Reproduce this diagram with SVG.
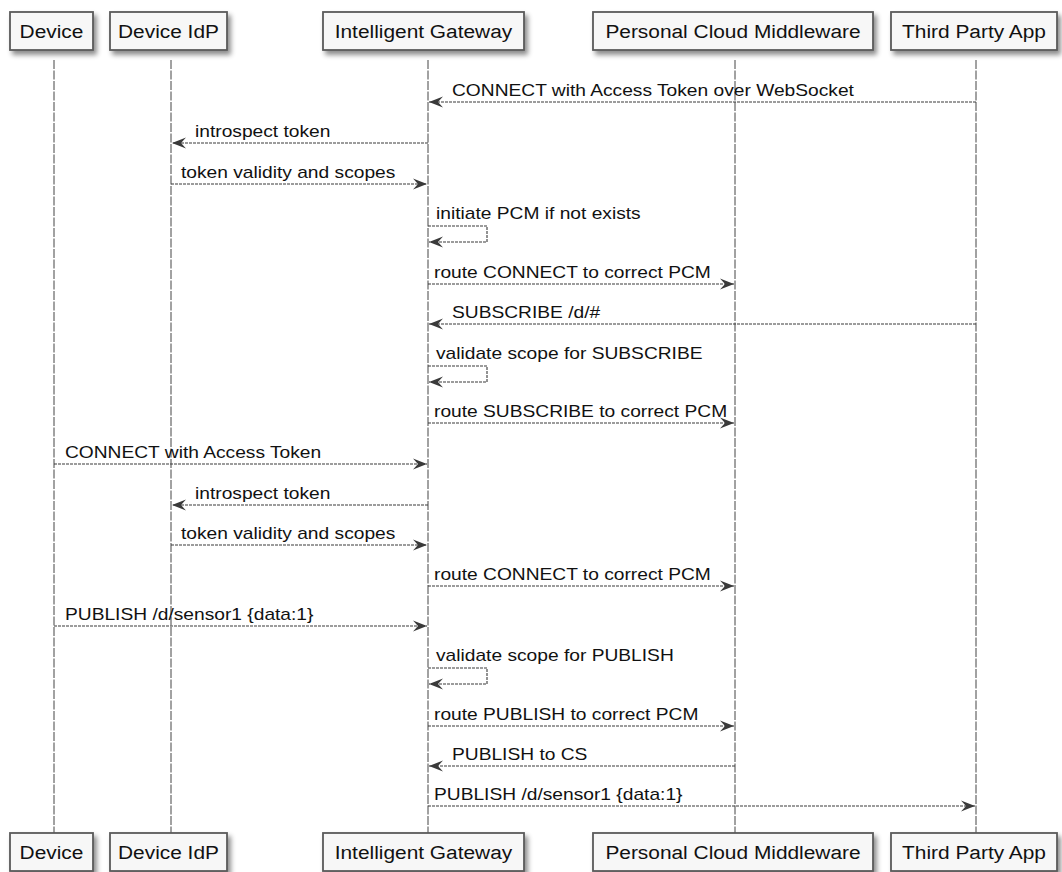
<svg xmlns="http://www.w3.org/2000/svg" width="1062" height="872" viewBox="0 0 1062 872">
<defs>
<filter id="sh" x="-10%" y="-20%" width="130%" height="160%">
<feDropShadow dx="3" dy="4" stdDeviation="2.5" flood-color="#000" flood-opacity="0.45"/>
</filter>
<marker id="ah" viewBox="0 0 14 12" refX="14" refY="6" markerWidth="14" markerHeight="12" markerUnits="userSpaceOnUse" orient="auto">
<path d="M0,0.5 L14,6 L0,11.5 L5,6 Z" fill="#3a3a3a"/>
</marker>
</defs>
<style>
.box{fill:#f7f7f7;stroke:#5a5a5a;stroke-width:1.8;filter:url(#sh)}
.pt{font-family:"Liberation Sans",Arial,sans-serif;font-size:18px;fill:#111;text-anchor:middle;transform-box:fill-box;transform-origin:center;transform:scaleX(1.16)}
.life{stroke:#444;stroke-width:1;stroke-dasharray:9,1.5;fill:none}
.msg{stroke:#3a3a3a;stroke-width:1.1;stroke-dasharray:3,1;fill:none;marker-end:url(#ah)}
.ml{font-family:"Liberation Sans",Arial,sans-serif;font-size:16px;fill:#111;transform-box:fill-box;transform-origin:left center;transform:scaleX(1.2)}
</style>
<rect width="1062" height="872" fill="#fff"/>
<g id="lifelines">
<line class="life" x1="54" y1="60" x2="54" y2="833"/>
<line class="life" x1="171" y1="60" x2="171" y2="833"/>
<line class="life" x1="428" y1="60" x2="428" y2="833"/>
<line class="life" x1="735" y1="60" x2="735" y2="833"/>
<line class="life" x1="976" y1="60" x2="976" y2="833"/>
</g>
<g id="device">
<rect class="box" x="10" y="12" width="83" height="38"/>
<text class="pt" x="51.5" y="38">Device</text>
<rect class="box" x="10" y="833" width="83" height="38"/>
<text class="pt" x="51.5" y="859">Device</text>
</g>
<g id="device-idp">
<rect class="box" x="110" y="12" width="117" height="38"/>
<text class="pt" x="168.5" y="38">Device IdP</text>
<rect class="box" x="110" y="833" width="117" height="38"/>
<text class="pt" x="168.5" y="859">Device IdP</text>
</g>
<g id="intelligent-gateway">
<rect class="box" x="323" y="12" width="201" height="38"/>
<text class="pt" x="423.5" y="38">Intelligent Gateway</text>
<rect class="box" x="323" y="833" width="201" height="38"/>
<text class="pt" x="423.5" y="859">Intelligent Gateway</text>
</g>
<g id="personal-cloud-middleware">
<rect class="box" x="593" y="12" width="280" height="38"/>
<text class="pt" x="733" y="38">Personal Cloud Middleware</text>
<rect class="box" x="593" y="833" width="280" height="38"/>
<text class="pt" x="733" y="859">Personal Cloud Middleware</text>
</g>
<g id="third-party-app">
<rect class="box" x="891" y="12" width="166" height="38"/>
<text class="pt" x="974" y="38">Third Party App</text>
<rect class="box" x="891" y="833" width="166" height="38"/>
<text class="pt" x="974" y="859">Third Party App</text>
</g>
<g id="connectors">
<line class="msg" x1="976" y1="102" x2="429" y2="102"/>
<text class="ml" x="452" y="96">CONNECT with Access Token over WebSocket</text>
<line class="msg" x1="428" y1="143" x2="172" y2="143"/>
<text class="ml" x="195" y="137">introspect token</text>
<line class="msg" x1="171" y1="184" x2="427" y2="184"/>
<text class="ml" x="181" y="178">token validity and scopes</text>
<polyline class="msg" points="428,226 487,226 487,242 429,242"/>
<text class="ml" x="436" y="219">initiate PCM if not exists</text>
<line class="msg" x1="428" y1="284" x2="734" y2="284"/>
<text class="ml" x="434" y="278">route CONNECT to correct PCM</text>
<line class="msg" x1="976" y1="324" x2="429" y2="324"/>
<text class="ml" x="452" y="318">SUBSCRIBE /d/#</text>
<polyline class="msg" points="428,366 487,366 487,382 429,382"/>
<text class="ml" x="436" y="359">validate scope for SUBSCRIBE</text>
<line class="msg" x1="428" y1="423" x2="734" y2="423"/>
<text class="ml" x="434" y="417">route SUBSCRIBE to correct PCM</text>
<line class="msg" x1="54" y1="464" x2="427" y2="464"/>
<text class="ml" x="65" y="458">CONNECT with Access Token</text>
<line class="msg" x1="428" y1="505" x2="172" y2="505"/>
<text class="ml" x="195" y="499">introspect token</text>
<line class="msg" x1="171" y1="545" x2="427" y2="545"/>
<text class="ml" x="181" y="539">token validity and scopes</text>
<line class="msg" x1="428" y1="586" x2="734" y2="586"/>
<text class="ml" x="434" y="580">route CONNECT to correct PCM</text>
<line class="msg" x1="54" y1="626" x2="427" y2="626"/>
<text class="ml" x="65" y="620">PUBLISH /d/sensor1 {data:1}</text>
<polyline class="msg" points="428,668 487,668 487,684 429,684"/>
<text class="ml" x="436" y="661">validate scope for PUBLISH</text>
<line class="msg" x1="428" y1="726" x2="734" y2="726"/>
<text class="ml" x="434" y="720">route PUBLISH to correct PCM</text>
<line class="msg" x1="735" y1="766" x2="429" y2="766"/>
<text class="ml" x="452" y="760">PUBLISH to CS</text>
<line class="msg" x1="428" y1="806" x2="975" y2="806"/>
<text class="ml" x="434" y="800">PUBLISH /d/sensor1 {data:1}</text>
</g>
</svg>
